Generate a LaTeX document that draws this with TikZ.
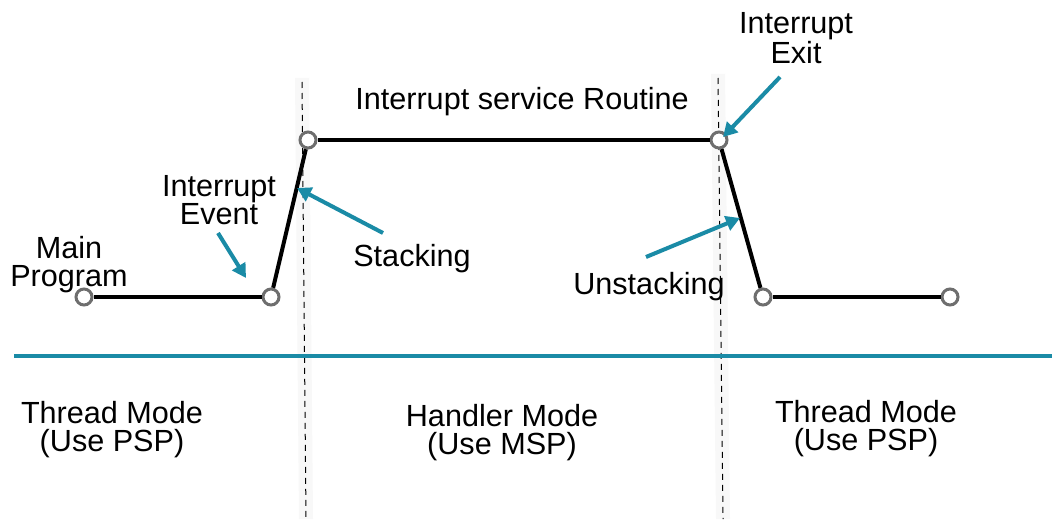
\documentclass[tikz,border=0pt]{standalone}
\usepackage{fontspec}
\setmainfont{Liberation Sans}
\usepackage{tikz}
\usetikzlibrary{arrows.meta,positioning,calc}
\definecolor{acc}{HTML}{1A8BA6}
\definecolor{ring}{HTML}{6E6E6E}
\definecolor{band}{HTML}{F8F8F8}
\tikzset{
  dot/.style={circle,draw=ring,line width=1.5pt,fill=white,minimum size=8pt,inner sep=0pt},
  lvl/.style={draw=black,line width=2pt},
  lab/.style={font=\fontsize{15.3}{14}\selectfont,align=center,inner sep=0pt},
  arr/.style={-{Triangle[length=7pt,width=7.5pt]},draw=acc,line width=2pt},
  sep/.style={draw=black,line width=0.5pt,dash pattern=on 3pt off 2.5pt},
}
\begin{document}
\begin{tikzpicture}[x=0.5pt,y=-0.5pt]
\fill[white] (0,0) rectangle (1052,519);
\useasboundingbox (0,0) rectangle (1052,519);
\fill[band] (295,78) -- (309,78) -- (313,519) -- (299,519) -- cycle;
\fill[band] (711,74) -- (725,74) -- (730,519) -- (716,519) -- cycle;
\coordinate (s1t) at (302,82); \coordinate (s1b) at (306,519);
\coordinate (s2t) at (718,78); \coordinate (s2b) at (723,519);
\draw[sep] (s1t) -- (s1b); \draw[sep] (s2t) -- (s2b);
\coordinate (bl) at (14,356); \coordinate (br) at (1052,356);
\draw[draw=acc,line width=2pt] (bl) -- (br);
\node[dot] (m0) at (84,297) {};
\node[dot] (m1) at (271,297) {};
\node[dot] (h0) at (308,140) {};
\node[dot] (h1) at (719,140) {};
\node[dot] (t0) at (763,297) {};
\node[dot] (t1) at (950,297) {};
\draw[lvl] (m0)--(m1); \draw[lvl] (m1)--(h0); \draw[lvl] (h0)--(h1); \draw[lvl] (h1)--(t0); \draw[lvl] (t0)--(t1);
\node[lab] (main) at (69,265) {Main\\Program};
\node[lab] (evt) at (219,200) {Interrupt\\Event};
\node[lab] (stk) at (412,259) {Stacking};
\node[lab] (isr) at (522,102) {Interrupt service Routine};
\node[lab] (ext) at (796,38) {Interrupt\\Exit};
\node[lab] (unstk) at (649,287) {Unstacking};
\node[lab] (thr1) at (112,430) {Thread Mode\\(Use PSP)};
\node[lab] (hdl) at (502,433) {Handler Mode\\(Use MSP)};
\node[lab] (thr2) at (866,429) {Thread Mode\\(Use PSP)};
\coordinate (a1) at (218,233); \coordinate (a1e) at (246,278);
\coordinate (a2) at (383,233); \coordinate (a2e) at (297,188);
\coordinate (a3) at (780,77); \coordinate (a3e) at (723,137);
\coordinate (a4) at (646,257); \coordinate (a4e) at (740,218);
\draw[arr] (a1)--(a1e); \draw[arr] (a2)--(a2e); \draw[arr] (a3)--(a3e); \draw[arr] (a4)--(a4e);
\end{tikzpicture}
\end{document}
